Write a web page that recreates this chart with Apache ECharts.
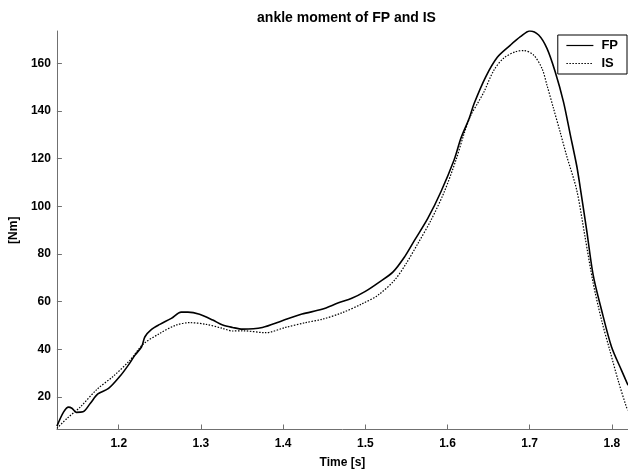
<!DOCTYPE html>
<html>
<head>
<meta charset="utf-8">
<script src="https://cdn.jsdelivr.net/npm/echarts@6/dist/echarts.min.js"></script>
<style>
html,body{margin:0;padding:0;background:#fff;}
#chart{width:628px;height:474px;}
</style>
</head>
<body>
<div id="chart"></div>
<script>
// FP (force plate) ankle moment
var fpTime = [1.1248,1.133,1.139,1.143,1.1485,1.1565,1.1655,1.1746,1.1876,1.2017,1.2117,1.2198,1.2278,1.2319,1.2399,1.25,1.264,1.276,1.2842,1.2983,1.3144,1.3265,1.3385,1.3506,1.3748,1.3989,1.423,1.4472,1.4674,1.4835,1.4995,1.5157,1.5338,1.5478,1.56,1.576,1.592,1.608,1.6163,1.6263,1.6324,1.6465,1.6606,1.6766,1.6887,1.7,1.7109,1.721,1.731,1.7411,1.7491,1.7572,1.7612,1.7693,1.7773,1.7874,1.7995,1.8116,1.8196];
var fpMoment = [7.8,13.8,15.8,15.3,13.6,13.8,17.4,21.3,23.6,28.8,33.4,37.6,41.1,45.3,48.4,50.5,53,55.6,55.6,54.7,52.3,50.2,49.2,48.5,49.2,52,54.8,56.8,59.5,61.4,64.2,67.9,72.5,78.8,85.8,94.9,106.1,119.4,128.5,136.8,143.1,154.3,162.5,167.6,171.1,173.5,171.8,166.2,156.4,143.8,130.5,117,108.5,90,71,56.5,41.1,31.3,25];
// IS (instrumented shoe) ankle moment
var isTime = [1.1248,1.1372,1.1534,1.1734,1.1936,1.2138,1.2298,1.25,1.27,1.2862,1.3063,1.3264,1.3385,1.3506,1.3787,1.4029,1.427,1.4472,1.4714,1.4955,1.5157,1.5358,1.5499,1.564,1.58,1.5961,1.6103,1.6203,1.6284,1.6365,1.6444,1.6565,1.6686,1.6827,1.6928,1.7048,1.715,1.721,1.729,1.737,1.7451,1.7572,1.7673,1.7773,1.7874,1.7974,1.8075,1.8176,1.8196];
var isMoment = [6.9,11.1,15.9,23.2,28.8,35.5,42.2,46.7,50.2,51.2,50.5,48.8,47.7,47.8,47,49.2,51.2,52.6,55.3,59,62.8,69.1,76.1,84.4,94.2,106.1,119.4,130.6,138.2,143.1,148,157.1,162.2,164.8,165.3,163.4,157.8,150.8,141,131.2,121,106.8,87.2,67.7,52.3,39.7,27.1,15.9,14.5];

var titleText = 'ankle moment of FP and IS';
var xName = 'Time [s]';
var yName = '[Nm]';
var seriesNames = ['FP', 'IS'];

function pairs(xs, ys){ return xs.map(function(x,i){ return [x, ys[i]]; }); }

var font = 'Liberation Sans, Arial, Helvetica, sans-serif';
var chart = echarts.init(document.getElementById('chart'));
chart.setOption({
  animation: false,
  backgroundColor: '#fff',
  title: {
    text: titleText, left: 341.5, top: 6, textAlign: 'center',
    textStyle: {fontFamily: font, fontSize: 14, fontWeight: 'bold', color: '#000'}
  },
  legend: {
    orient: 'vertical', right: 1, top: 35,
    data: seriesNames,
    backgroundColor: '#fff', borderColor: '#000', borderWidth: 1,
    padding: [4, 9, 4, 8], itemGap: 5, itemWidth: 27, itemHeight: 12,
    itemStyle: {opacity: 0},
    lineStyle: {width: 1.2},
    textStyle: {fontFamily: font, fontSize: 13, fontWeight: 'bold', color: '#000', padding: [0, 0, 0, 3]}
  },
  grid: {left: 53, right: 0, top: 31, bottom: 44.5, containLabel: false},
  xAxis: {
    type: 'value', min: 1.1248, max: 1.8196, minInterval: 0.1, maxInterval: 0.1,
    name: xName, nameLocation: 'middle', nameGap: 27,
    nameTextStyle: {fontFamily: font, fontSize: 12, fontWeight: 'bold', color: '#000'},
    axisLine: {lineStyle: {color: '#707070', width: 1}},
    axisTick: {inside: true, length: 5, lineStyle: {color: '#707070'}},
    axisLabel: {showMinLabel: false, showMaxLabel: false, margin: 8,
      fontFamily: font, fontSize: 12, fontWeight: 'bold', color: '#000',
      formatter: function(v){ return v.toFixed(1); }},
    splitLine: {show: false}
  },
  yAxis: {
    type: 'value', min: 6.4, max: 173.5, minInterval: 20, maxInterval: 20,
    name: yName, nameLocation: 'middle', nameGap: 28, nameRotate: 90,
    nameTextStyle: {fontFamily: font, fontSize: 12, fontWeight: 'bold', color: '#000'},
    axisLine: {show: true, lineStyle: {color: '#707070', width: 1}},
    axisTick: {show: true, inside: true, length: 5, lineStyle: {color: '#707070'}},
    axisLabel: {showMinLabel: false, showMaxLabel: false, margin: 6,
      fontFamily: font, fontSize: 12, fontWeight: 'bold', color: '#000'},
    splitLine: {show: false}
  },
  series: [
    {name: seriesNames[0], type: 'line', data: pairs(fpTime, fpMoment), smooth: 0.3,
     symbol: 'none', lineStyle: {color: '#000', width: 1.6, type: 'solid'}, itemStyle: {color: '#000'}},
    {name: seriesNames[1], type: 'line', data: pairs(isTime, isMoment), smooth: 0.3,
     symbol: 'none', lineStyle: {color: '#000', width: 1.2, type: [1.5, 1.5]}, itemStyle: {color: '#000'}}
  ]
});
</script>
</body>
</html>
